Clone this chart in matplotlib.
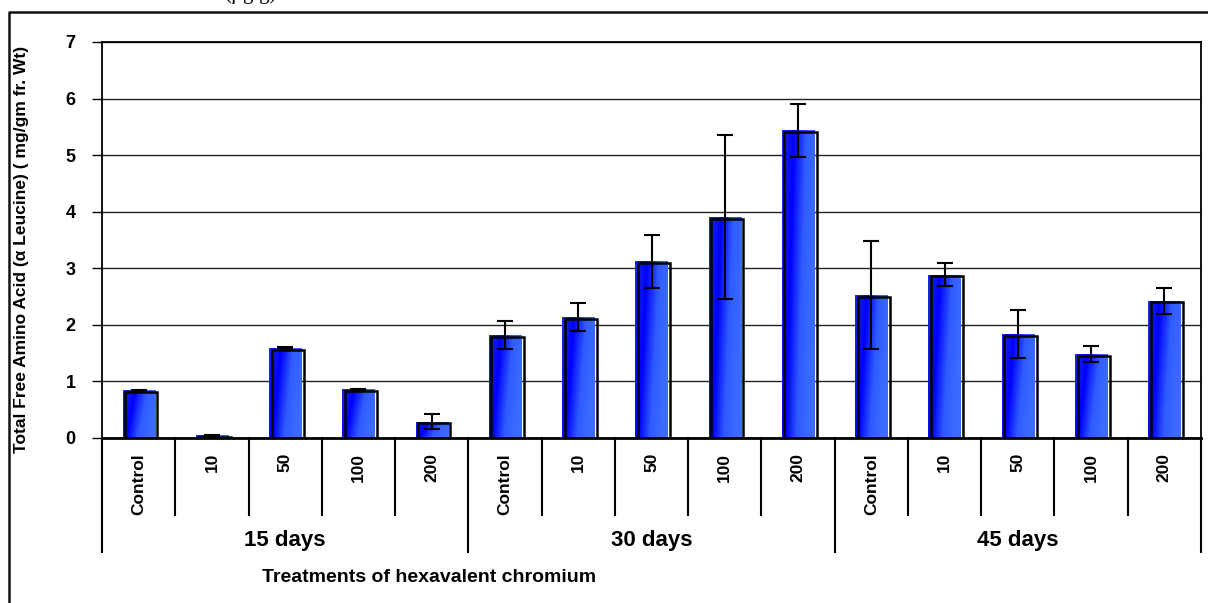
import numpy as np
import matplotlib
matplotlib.use('Agg')
import matplotlib.pyplot as plt
from matplotlib.colors import LinearSegmentedColormap
from matplotlib.lines import Line2D

# --- values ---
groups = ['15 days', '30 days', '45 days']
doses = ['Control', '10', '50', '100', '200']

means = [0.84, 0.05, 1.59, 0.86, 0.29,
         1.82, 2.14, 3.12, 3.90, 5.44,
         2.53, 2.89, 1.84, 1.48, 2.43]
errs = [0.01, 0.01, 0.01, 0.01, 0.13,
        0.24, 0.24, 0.47, 1.45, 0.47,
        0.95, 0.21, 0.43, 0.14, 0.23]

yticks = [0, 1, 2, 3, 4, 5, 6, 7]
ylabel = 'Total Free Amino Acid (\u03b1 Leucine) ( mg/gm fr. Wt)'
xlabel = 'Treatments of hexavalent chromium'

plt.rcParams['font.family'] = ['Liberation Sans', 'DejaVu Sans']
plt.rcParams['font.weight'] = 'bold'

fig = plt.figure(figsize=(12.08, 6.03), dpi=100)
ax = fig.add_axes([102/1208, 1-438/603, 1099/1208, 396/603])

n = len(means)
x = np.arange(n)
w = 0.44
dx, dy = 0.035, 0.03

cmap = LinearSegmentedColormap.from_list('barblue', ['#1a2ad8', '#0000ff', '#2f5cff', '#3d6bff'])
yy, xx = np.mgrid[0:1:60j, 0:1:30j]
grad = np.clip(xx * 0.9 + (1 - yy) * 0.25, 0, 1)

bars = ax.bar(x, means, w, color='#0a28ff', edgecolor='none', zorder=2)
for b in bars:
    x0 = b.get_x()
    im = ax.imshow(grad, extent=[x0, x0 + b.get_width(), 0, b.get_height()],
                   origin='lower', aspect='auto', cmap=cmap, zorder=2.1)
    im.set_clip_path(b)
ax.bar(x + dx, np.array(means) - dy, w, bottom=0, fill=False,
       edgecolor='black', linewidth=1.8, zorder=2.2)
ax.errorbar(x, means, yerr=errs, fmt='none', ecolor='black', elinewidth=1.5,
            capsize=5.5, capthick=1.5, zorder=3)

ax.set_xlim(-0.5, n - 0.5)
ax.set_ylim(0, 7)
ax.set_yticks(yticks)
ax.tick_params(axis='y', length=7, width=1, labelsize=13, pad=12, color='black')
ax.set_xticks([])
ax.yaxis.grid(True, color='#222222', linewidth=1.0)
ax.set_axisbelow(True)
for s in ['left', 'right', 'top']:
    ax.spines[s].set_linewidth(1.3)
ax.spines['bottom'].set_linewidth(2)

# category labels and dividers
for i in range(n):
    ax.text(i, -0.038, doses[i % 5], rotation=90, ha='center', va='top',
            fontsize=12.5, fontweight='bold', transform=ax.get_xaxis_transform())
for i in range(n + 1):
    bottom = -0.288 if i % 5 == 0 else -0.194
    ax.add_line(Line2D([i - 0.5, i - 0.5], [0, bottom], color='black', linewidth=1.5,
                       transform=ax.get_xaxis_transform(), clip_on=False))
for g, name in enumerate(groups):
    ax.text(g * 5 + 2, -0.26, name, ha='center', va='center', fontsize=16,
            fontweight='bold', transform=ax.get_xaxis_transform())

fig.text(429/1208, 1 - 578/603, xlabel, ha='center', va='center', fontsize=14,
         fontweight='bold')
fig.text(22/1208, 1 - 249/603, ylabel, rotation=90, ha='center', va='center',
         fontsize=12.5, fontweight='bold')

# outer frame (left and top edges)
fig.add_artist(Line2D([9/1208, 9/1208, 1], [0, 1 - 12/603, 1 - 12/603],
                      color='#111111', linewidth=1.8, transform=fig.transFigure))
fig.text(250/1208, 1 + 6/603, '(\u00b5g/g)', ha='center', va='center', fontsize=15,
         family='Liberation Serif', fontweight='normal')

fig.savefig('out.png', dpi=100)
